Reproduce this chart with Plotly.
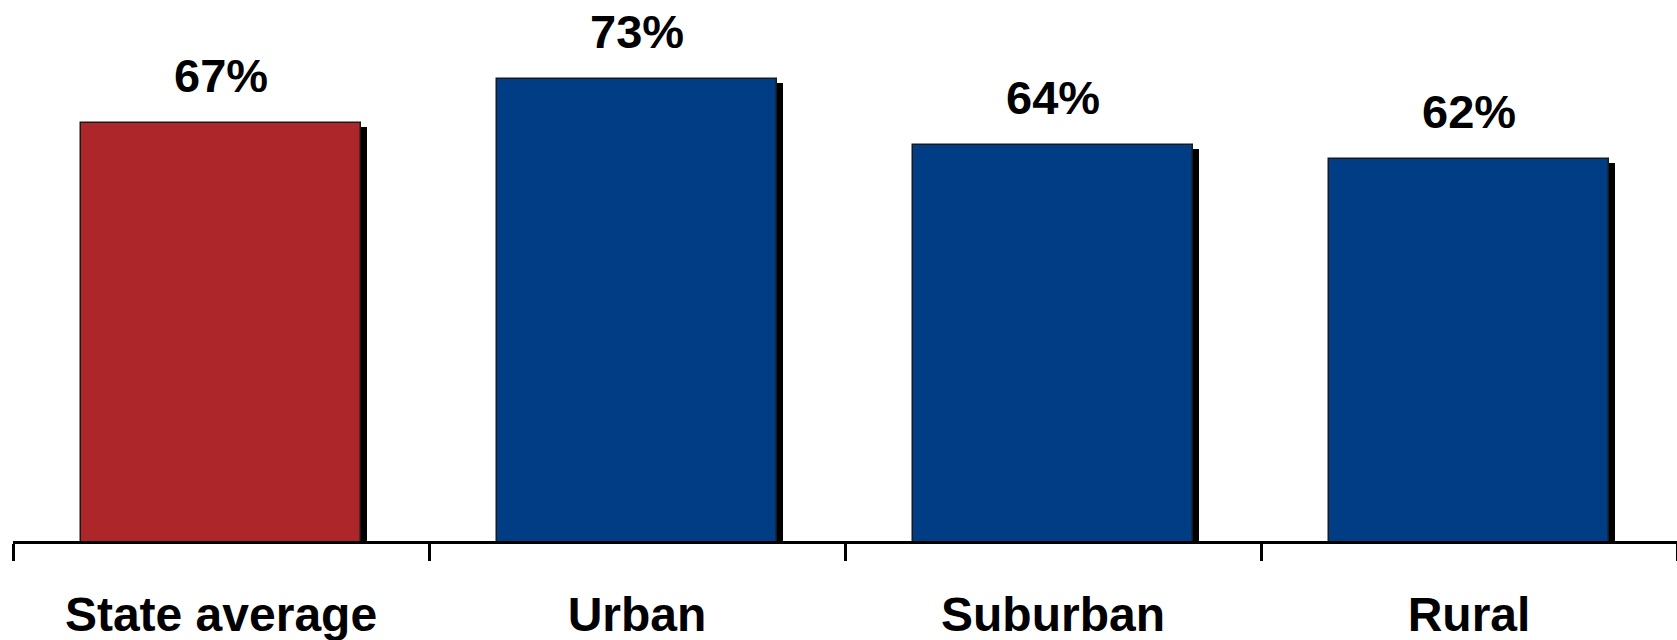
import plotly.graph_objects as go

categories = ["State average", "Urban", "Suburban", "Rural"]
values = [67, 73, 64, 62]
value_labels = ["67%", "73%", "64%", "62%"]
bar_colors = ["#AD2629", "#003D85", "#003D85", "#003D85"]

FONT = "Arial, 'Liberation Sans', sans-serif"
BAR_W = 0.671
SHADOW_DX = 0.016   # category units
SHADOW_DY = 0.55    # percent units

fig = go.Figure()

# drop shadow
fig.add_trace(go.Bar(
    x=categories,
    y=[v - SHADOW_DY for v in values],
    width=BAR_W,
    offset=-BAR_W / 2 + SHADOW_DX,
    marker=dict(color="#000000", line=dict(width=0)),
    hoverinfo="skip",
    showlegend=False,
))

# main bars
fig.add_trace(go.Bar(
    x=categories,
    y=values,
    width=BAR_W,
    offset=-BAR_W / 2,
    marker=dict(color=bar_colors, line=dict(color="#1a1a1a", width=1.5)),
    showlegend=False,
))

for c, v, lab in zip(categories, values, value_labels):
    fig.add_annotation(
        x=c, y=v, text=f"<b>{lab}</b>", showarrow=False,
        yanchor="bottom", yshift=19,
        font=dict(family=FONT, size=47, color="#000000"),
    )

fig.update_layout(
    width=1677, height=640,
    margin=dict(l=13, r=0, t=0, b=99, autoexpand=False),
    paper_bgcolor="white", plot_bgcolor="white",
    barmode="overlay",
    bargap=0,
    font=dict(family=FONT, color="#000000"),
)

fig.update_xaxes(
    type="category",
    range=[-0.5, 3.5],
    tickson="boundaries",
    ticks="outside", ticklen=17, tickwidth=2.5, tickcolor="#000000",
    showline=True, linecolor="#000000", linewidth=2.5,
    showgrid=False, zeroline=False,
    tickfont=dict(family=FONT, size=48, color="#000000", weight="bold"),
    ticklabelstandoff=30,
    automargin=False,
)

fig.update_yaxes(
    range=[10, 10 + 541 / 7.34],
    visible=False,
    showgrid=False, zeroline=False,
    automargin=False,
)

fig.write_html(
    "out.html",
    config={"displayModeBar": False},
    post_script="document.body.style.margin='0';document.body.style.overflow='hidden';",
)
